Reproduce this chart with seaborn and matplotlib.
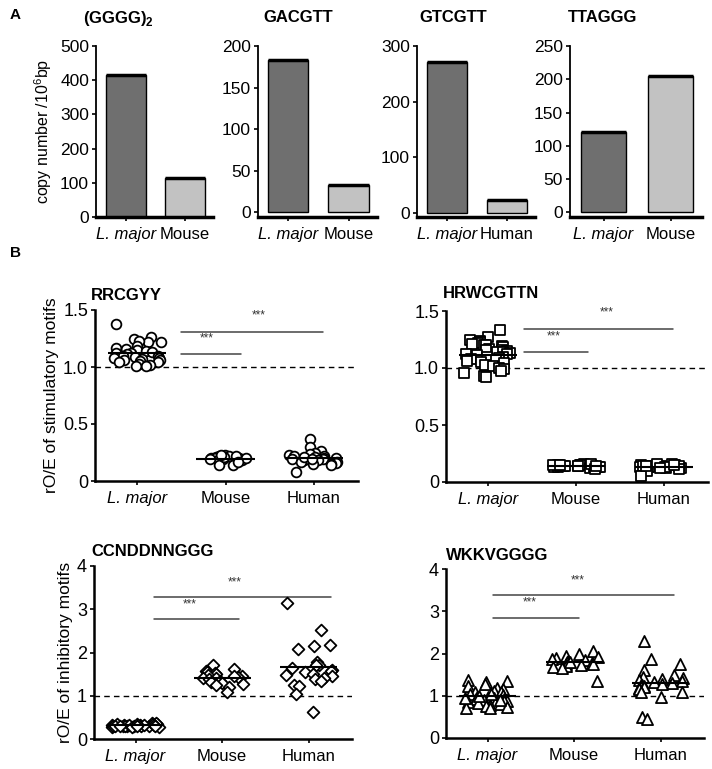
import numpy as np
import pandas as pd
import matplotlib
matplotlib.use('Agg')
import matplotlib.pyplot as plt
import seaborn as sns

sns.set_style('ticks')
plt.rcParams['font.family'] = ['Liberation Sans', 'DejaVu Sans']
plt.rcParams['mathtext.fontset'] = 'custom'
plt.rcParams['mathtext.rm'] = 'Liberation Sans'
plt.rcParams['mathtext.bf'] = 'Liberation Sans:bold'
for k in ['text.color', 'axes.labelcolor', 'xtick.color', 'ytick.color', 'axes.edgecolor']:
    plt.rcParams[k] = 'black'

# Panel A: motif copy number per 10^6 bp
bar_titles = ['(GGGG)$_\\mathbf{2}$', 'GACGTT', 'GTCGTT', 'TTAGGG']
bar_species = [['L. major', 'Mouse'], ['L. major', 'Mouse'],
               ['L. major', 'Human'], ['L. major', 'Mouse']]
bar_values = [[415, 115], [183, 32], [272, 22], [121, 205]]
bar_yticks = [[0, 100, 200, 300, 400, 500], [0, 50, 100, 150, 200],
              [0, 100, 200, 300], [0, 50, 100, 150, 200, 250]]

# Panel B: rO/E per genome
groups = ['L. major', 'Mouse', 'Human']

rrcgyy_lmajor = [1.38, 1.26, 1.25, 1.22, 1.22, 1.23, 1.18, 1.17, 1.16, 1.15,
                 1.14, 1.13, 1.12, 1.12, 1.11, 1.10, 1.10, 1.09, 1.08, 1.08,
                 1.07, 1.06, 1.06, 1.05, 1.04, 1.04, 1.03, 1.02, 1.01, 1.01]
rrcgyy_mouse = [0.20, 0.21, 0.22, 0.23, 0.19, 0.18, 0.20, 0.21, 0.22, 0.20,
                0.19, 0.18, 0.14, 0.14, 0.21, 0.22, 0.23, 0.20, 0.19, 0.17]
rrcgyy_human = [0.37, 0.30, 0.26, 0.25, 0.24, 0.23, 0.22, 0.22, 0.21, 0.20,
                0.20, 0.19, 0.19, 0.18, 0.18, 0.17, 0.17, 0.16, 0.15, 0.15,
                0.14, 0.08, 0.21, 0.19]

hrwcgttn_lmajor = [1.33, 1.27, 1.25, 1.24, 1.23, 1.22, 1.21, 1.20, 1.20, 1.19,
                   1.18, 1.17, 1.16, 1.16, 1.15, 1.14, 1.14, 1.13, 1.12, 1.12,
                   1.11, 1.10, 1.10, 1.09, 1.08, 1.07, 1.06, 1.05, 1.04, 1.03,
                   1.02, 1.00, 0.99, 0.97, 0.96, 0.93, 0.92]
hrwcgttn_mouse = [0.13, 0.14, 0.15, 0.14, 0.13, 0.15, 0.14, 0.16, 0.13, 0.14,
                  0.15, 0.14, 0.12, 0.13, 0.15, 0.14, 0.16, 0.13, 0.14, 0.15,
                  0.11, 0.14]
hrwcgttn_human = [0.13, 0.14, 0.15, 0.12, 0.13, 0.16, 0.14, 0.12, 0.13, 0.15,
                  0.14, 0.11, 0.12, 0.13, 0.16, 0.14, 0.10, 0.05, 0.13, 0.15,
                  0.12, 0.14]

ccnddnnggg_lmajor = [0.30, 0.32, 0.35, 0.28, 0.31, 0.33, 0.38, 0.36, 0.30, 0.29,
                     0.34, 0.31, 0.32, 0.27, 0.33, 0.30, 0.35, 0.31, 0.29, 0.32,
                     0.30, 0.33, 0.28, 0.31, 0.34, 0.30]
ccnddnnggg_mouse = [1.70, 1.63, 1.58, 1.55, 1.52, 1.50, 1.48, 1.46, 1.44, 1.42,
                    1.40, 1.38, 1.35, 1.32, 1.30, 1.28, 1.25, 1.20, 1.08, 1.45]
ccnddnnggg_human = [3.15, 2.52, 2.17, 2.15, 2.08, 1.78, 1.72, 1.70, 1.65, 1.60,
                    1.58, 1.55, 1.50, 1.48, 1.45, 1.42, 1.38, 1.35, 1.25, 1.22,
                    1.05, 0.62]

wkkvgggg_lmajor = [1.38, 1.35, 1.32, 1.28, 1.22, 1.18, 1.15, 1.12, 1.10, 1.08,
                   1.05, 1.02, 1.00, 0.98, 0.96, 0.95, 0.93, 0.92, 0.90, 0.88,
                   0.87, 0.85, 0.84, 0.82, 0.80, 0.78, 0.76, 0.74, 0.72, 0.70,
                   1.00, 0.95, 0.90, 1.05]
wkkvgggg_mouse = [2.05, 2.00, 1.95, 1.92, 1.90, 1.88, 1.85, 1.82, 1.80, 1.78,
                  1.76, 1.74, 1.72, 1.70, 1.68, 1.66, 1.35, 1.80]
wkkvgggg_human = [2.30, 1.88, 1.75, 1.60, 1.50, 1.45, 1.42, 1.40, 1.38, 1.35,
                  1.32, 1.30, 1.28, 1.26, 1.25, 1.22, 1.20, 1.18, 1.15, 1.10,
                  1.08, 0.97, 0.50, 0.45]

scatter_titles = ['RRCGYY', 'HRWCGTTN', 'CCNDDNNGGG', 'WKKVGGGG']
scatter_data = [[rrcgyy_lmajor, rrcgyy_mouse, rrcgyy_human],
                [hrwcgttn_lmajor, hrwcgttn_mouse, hrwcgttn_human],
                [ccnddnnggg_lmajor, ccnddnnggg_mouse, ccnddnnggg_human],
                [wkkvgggg_lmajor, wkkvgggg_mouse, wkkvgggg_human]]
sig_label = '***'

W, H = 712, 769
fig = plt.figure(figsize=(W / 100, H / 100), dpi=100)


def px_axes(left, top, right, bottom):
    return fig.add_axes([left / W, 1 - bottom / H, (right - left) / W, (bottom - top) / H])


def cat_labels(ax, labels, size):
    ax.set_xticks(range(len(labels)))
    ax.set_xticklabels(labels, fontsize=size)
    for t in ax.get_xticklabels():
        if t.get_text() == 'L. major':
            t.set_style('italic')


# ---- panel A: bars
bar_boxes = [(96, 46, 213, 217), (258, 46, 377, 217), (417, 46, 535, 217), (570, 46, 702, 217)]
bar_ybottom = [0, -6, -8, -7]
bar_title_x = [118, 298, 453, 603]
for i in range(4):
    ax = px_axes(*bar_boxes[i])
    sns.barplot(x=bar_species[i], y=bar_values[i], hue=bar_species[i],
                palette=['#6f6f6f', '#c2c2c2'], legend=False, errorbar=None,
                width=0.67, edgecolor='black', linewidth=1.0, ax=ax)
    for p in ax.patches:
        ax.plot([p.get_x(), p.get_x() + p.get_width()], [p.get_height()] * 2,
                color='black', lw=2.5, solid_capstyle='butt', zorder=4)
    ax.set_xlim(-0.5, 1.47)
    ax.set_ylim(bar_ybottom[i], bar_yticks[i][-1])
    ax.set_yticks(bar_yticks[i])
    ax.tick_params(axis='y', labelsize=12.5, length=3, width=1.2, pad=2)
    ax.tick_params(axis='x', length=3, width=1.2, pad=4)
    cat_labels(ax, bar_species[i], 12)
    sns.despine(ax=ax)
    ax.spines['left'].set_linewidth(1.3)
    ax.spines['bottom'].set_linewidth(2.5)
    fig.text(bar_title_x[i] / W, 1 - 18 / H, bar_titles[i], ha='center', va='center',
             fontsize=12, fontweight='bold')
    if i == 0:
        ax.set_ylabel('copy number /10$^6$bp', fontsize=11.5, labelpad=4)

# ---- panel B: scatter
scat_boxes = [(95, 310, 358, 481), (446, 311, 708, 482), (94, 566, 352, 739), (446, 569, 704, 738)]
scat_markers = ['o', 's', 'D', '^']
scat_sizes = [7, 7.5, 6, 8]
scat_ylims = [1.5, 1.5, 4, 4]
scat_yticks = [([0, 0.5, 1.0, 1.5], ['0', '0.5', '1.0', '1.5']),
               ([0, 0.5, 1.0, 1.5], ['0', '0.5', '1.0', '1.5']),
               ([0, 1, 2, 3, 4], ['0', '1', '2', '3', '4']),
               ([0, 1, 2, 3, 4], ['0', '1', '2', '3', '4'])]
scat_ylabels = ['rO/E of stimulatory motifs', None, 'rO/E of inhibitory motifs', None]
# bracket layout: x start, short end, long end, short y, long y, star positions
brackets = [(0.49, 1.17, 2.10, 1.11, 1.31, (0.79, 1.25), (1.38, 1.45)),
            (0.41, 1.13, 2.10, 1.14, 1.34, (0.74, 1.28), (1.35, 1.49)),
            (0.21, 1.19, 2.26, 2.77, 3.28, (0.63, 3.12), (1.15, 3.63)),
            (0.06, 1.06, 2.15, 2.84, 3.38, (0.49, 3.22), (1.04, 3.74))]
title_pos = [(91, 295), (443, 293), (91, 552), (446, 555)]

np.random.seed(7)
for i in range(4):
    ax = px_axes(*scat_boxes[i])
    vals = scatter_data[i]
    df = pd.DataFrame({'group': np.repeat(groups, [len(v) for v in vals]),
                       'value': np.concatenate(vals)})
    ax.axhline(1.0, ls=(0, (4, 3)), color='black', lw=1.0, zorder=1)
    sns.stripplot(data=df, x='group', y='value', order=groups, ax=ax, jitter=0.28,
                  marker=scat_markers[i], size=scat_sizes[i], color='white',
                  edgecolor='black', linewidth=1.3, zorder=3)
    for j, v in enumerate(vals):
        ax.hlines(np.mean(v), j - 0.33, j + 0.33, color='black', lw=1.5, zorder=5)
    x0, xs, xl, ys, yl, st1, st2 = brackets[i]
    ax.plot([x0, xs], [ys, ys], color='#444444', lw=1.1)
    ax.plot([x0, xl], [yl, yl], color='#444444', lw=1.1)
    ax.text(st1[0], st1[1], sig_label, ha='center', va='center', fontsize=8.5, color='#333333')
    ax.text(st2[0], st2[1], sig_label, ha='center', va='center', fontsize=8.5, color='#333333')
    ax.set_xlim(-0.48, 2.5)
    ax.set_ylim(0, scat_ylims[i])
    ax.set_yticks(scat_yticks[i][0])
    ax.set_yticklabels(scat_yticks[i][1])
    ax.tick_params(axis='y', labelsize=13, length=3, width=1.2, pad=2)
    ax.tick_params(axis='x', length=3, width=1.2, pad=4)
    cat_labels(ax, groups, 12)
    ax.set_xlabel('')
    sns.despine(ax=ax)
    ax.spines['left'].set_linewidth(1.8)
    ax.spines['bottom'].set_linewidth(1.8)
    if scat_ylabels[i]:
        ax.set_ylabel(scat_ylabels[i], fontsize=12.5, labelpad=3)
    else:
        ax.set_ylabel('')
    fig.text(title_pos[i][0] / W, 1 - title_pos[i][1] / H, scatter_titles[i],
             ha='left', va='center', fontsize=12, fontweight='bold')

fig.text(10 / W, 1 - 15 / H, 'A', fontsize=11, fontweight='bold', va='center')
fig.text(10 / W, 1 - 253 / H, 'B', fontsize=11, fontweight='bold', va='center')

fig.savefig('out.png', dpi=100, facecolor='white')
